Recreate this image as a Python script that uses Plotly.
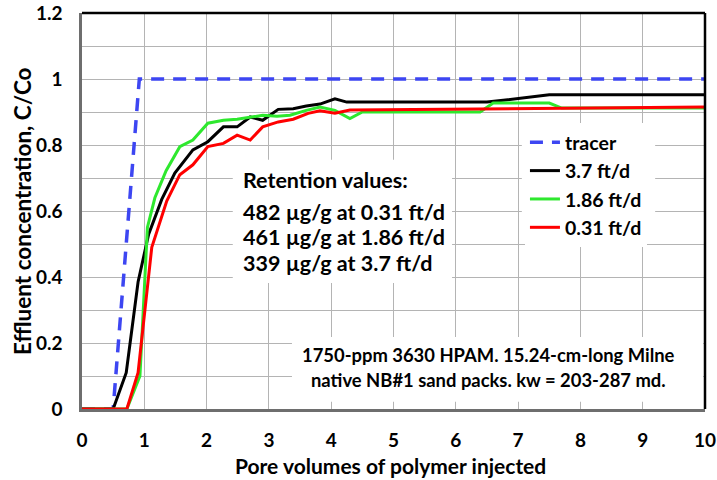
import plotly.graph_objects as go

# ---- data ----
tracer_x = [0, 0.5, 0.92, 10]
tracer_y = [0, 0, 1.0, 1.0]

black_x = [0, 0.5, 0.71, 0.9, 1.07, 1.28, 1.49, 1.78, 2.02, 2.27, 2.49, 2.7, 2.9, 3.15, 3.39, 3.6, 3.82, 4.06, 4.25, 6.5, 7.5, 10]
black_y = [0, 0, 0.11, 0.385, 0.53, 0.635, 0.715, 0.785, 0.81, 0.855, 0.855, 0.885, 0.875, 0.908, 0.91, 0.918, 0.924, 0.94, 0.93, 0.93, 0.952, 0.952]

green_x = [0, 0.72, 0.93, 1.05, 1.17, 1.35, 1.57, 1.78, 2.02, 2.27, 2.49, 2.7, 2.9, 3.13, 3.34, 3.6, 3.82, 4.06, 4.3, 4.5, 6.39, 6.6, 7.5, 7.7, 10]
green_y = [0, 0, 0.1, 0.55, 0.64, 0.722, 0.795, 0.815, 0.866, 0.875, 0.878, 0.885, 0.89, 0.887, 0.89, 0.905, 0.915, 0.905, 0.88, 0.9, 0.9, 0.927, 0.927, 0.912, 0.912]

red_x = [0, 0.72, 0.9, 1.12, 1.36, 1.57, 1.78, 2.02, 2.27, 2.49, 2.7, 2.9, 3.15, 3.39, 3.63, 3.82, 4.06, 4.3, 10]
red_y = [0, 0, 0.11, 0.49, 0.63, 0.71, 0.74, 0.795, 0.805, 0.83, 0.815, 0.855, 0.87, 0.878, 0.896, 0.904, 0.896, 0.906, 0.915]

x_ticks = [0, 1, 2, 3, 4, 5, 6, 7, 8, 9, 10]
y_ticks = [0, 0.1, 0.2, 0.3, 0.4, 0.5, 0.6, 0.7, 0.8, 0.9, 1.0, 1.1, 1.2]
y_tick_labels = ["0", "", "0.2", "", "0.4", "", "0.6", "", "0.8", "", "1", "", "1.2"]

retention_lines = ["Retention values:",
                   "482 µg/g at 0.31 ft/d",
                   "461 µg/g at 1.86 ft/d",
                   "339 µg/g at 3.7 ft/d"]
note_lines = ["1750-ppm 3630 HPAM. 15.24-cm-long Milne",
              "native NB#1 sand packs. kw = 203-287 md."]
x_title = "Pore volumes of polymer injected"
y_title = "Effluent concentration, C/Co"

FONT = "Lato"

fig = go.Figure()
fig.add_trace(go.Scatter(x=tracer_x, y=tracer_y, mode="lines", name="tracer",
                         line=dict(color="#3d46f2", width=3.5, dash="13px,9px")))
fig.add_trace(go.Scatter(x=black_x, y=black_y, mode="lines", name="3.7 ft/d",
                         line=dict(color="black", width=3)))
fig.add_trace(go.Scatter(x=green_x, y=green_y, mode="lines", name="1.86 ft/d",
                         line=dict(color="#2ee82e", width=3)))
fig.add_trace(go.Scatter(x=red_x, y=red_y, mode="lines", name="0.31 ft/d",
                         line=dict(color="#ff0000", width=3)))

fig.update_layout(
    width=717, height=480,
    margin=dict(l=82, r=12, t=13, b=71),
    paper_bgcolor="white", plot_bgcolor="white",
    font=dict(family=FONT, color="black"),
    showlegend=True,
    legend=dict(x=0.711, y=0.722, xanchor="left", yanchor="top",
                bgcolor="white", font=dict(size=19.5, family=FONT, weight="bold"),
                tracegroupgap=0, itemwidth=30, borderwidth=0),
    xaxis=dict(range=[0, 10], tickvals=x_ticks, showgrid=True, gridcolor="#b4b4b4", gridwidth=1,
               zeroline=False, showline=True, linecolor="#6e6e6e", linewidth=2.5,
               ticks="", ticklabelstandoff=12, automargin=False,
               tickfont=dict(size=19, family=FONT, weight="bold")),
    yaxis=dict(range=[0, 1.2], tickvals=y_ticks, ticktext=y_tick_labels, showgrid=True,
               gridcolor="#b4b4b4", gridwidth=1,
               zeroline=False, showline=True, linecolor="#6e6e6e", linewidth=2.5,
               ticks="", ticklabelstandoff=13, automargin=False,
               tickfont=dict(size=19, family=FONT, weight="bold")),
)

# axis titles
fig.add_annotation(x=0.495, y=0, xref="paper", yref="paper", yshift=-56, text=x_title,
                   showarrow=False, xanchor="center", yanchor="middle",
                   font=dict(size=21, family=FONT, weight="bold"))
fig.add_annotation(x=0, y=0.5, xref="paper", yref="paper", xshift=-60, text=y_title,
                   showarrow=False, textangle=-90, xanchor="center", yanchor="middle",
                   font=dict(size=22.5, family=FONT, weight="bold"))

# frame top/right in black
fig.add_shape(type="line", xref="paper", yref="paper", x0=0, x1=1, y0=1, y1=1,
              line=dict(color="black", width=2.5), layer="above")
fig.add_shape(type="line", xref="paper", yref="paper", x0=1, x1=1, y0=0, y1=1,
              line=dict(color="black", width=2.5), layer="above")

# white boxes behind text
fig.add_shape(type="rect", xref="x", yref="y", x0=2.42, x1=5.94, y0=0.382, y1=0.755,
              fillcolor="white", line=dict(width=0), layer="between")
fig.add_shape(type="rect", xref="x", yref="y", x0=3.37, x1=9.97, y0=0.022, y1=0.218,
              fillcolor="white", line=dict(width=0), layer="between")
# legend backing box (slightly larger than the legend itself, as in the reference)
fig.add_shape(type="rect", xref="x", yref="y", x0=7.06, x1=9.2, y0=0.52, y1=0.845,
              fillcolor="white", line=dict(width=0), layer="between")

ret_y = [0.694, 0.597, 0.521, 0.442]
for t, yy in zip(retention_lines, ret_y):
    fig.add_annotation(x=2.56, y=yy, xref="x", yref="y", text=t, showarrow=False,
                       xanchor="left", yanchor="middle",
                       font=dict(size=21.5, family=FONT, weight="bold", color="black"))

note_y = [0.1636, 0.0879]
for t, yy in zip(note_lines, note_y):
    fig.add_annotation(x=6.52, y=yy, xref="x", yref="y", text=t, showarrow=False,
                       xanchor="center", yanchor="middle",
                       font=dict(size=18.4, family=FONT, weight="bold", color="black"))

fig.write_html("out.html")
